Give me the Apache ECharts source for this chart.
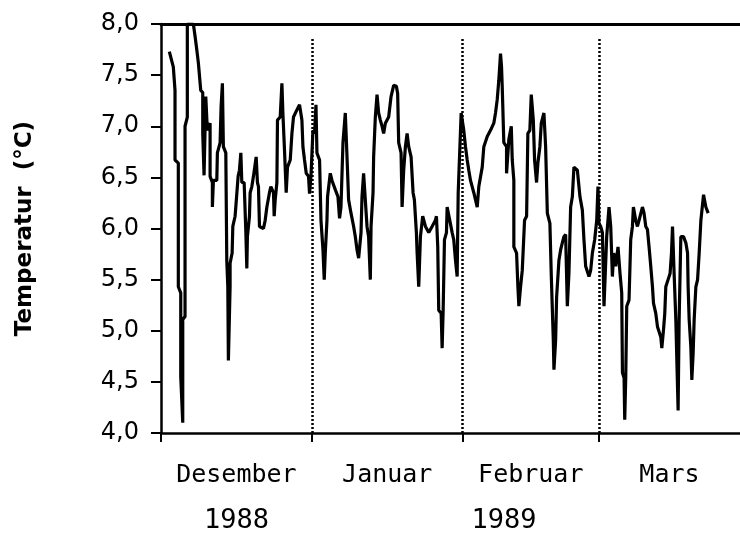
<!DOCTYPE html>
<html>
<head>
<meta charset="utf-8">
<style type="text/css">
html, body{margin: 0; padding: 0; background: #fff}
#chart{width: 740px; height: 535px}
</style>
</head>
<body>
<div id="chart"></div>
<script src="https://cdn.jsdelivr.net/npm/echarts@6/dist/echarts.min.js"></script>
<script type="text/javascript">
// days since 1 Dec 1988
var days = [1.71,2.53,2.88,2.88,3.56,3.56,4.06,4.06,4.47,4.47,4.94,4.94,5.41,5.41,6.65,7.00,7.35,7.68,8.17,8.58,
8.58,8.85,9.20,9.53,10.09,10.09,10.56,10.56,10.77,11.47,11.59,12.15,12.35,12.62,12.82,13.32,13.52,13.73,13.85,14.20,
14.20,14.62,14.76,15.23,15.44,15.85,16.12,16.41,16.61,17.09,17.44,17.64,17.76,18.18,18.32,18.67,19.00,19.56,19.82,20.03,
20.24,21.06,21.41,21.76,22.29,22.58,23.12,23.26,23.47,23.82,23.94,24.50,24.85,25.05,25.38,25.73,26.00,26.56,26.91,27.23,
27.93,28.47,28.96,29.17,29.50,29.85,30.32,30.53,30.82,31.23,31.56,31.85,32.05,32.59,32.88,33.29,33.55,33.76,34.11,34.23,
34.79,35.14,35.82,36.37,36.70,36.99,37.40,37.88,38.23,38.56,39.05,39.59,39.94,40.29,40.62,41.11,41.31,41.64,41.99,42.34,
42.67,43.02,43.17,43.58,43.70,44.05,44.40,44.73,45.08,45.43,45.76,46.11,46.79,47.28,47.82,48.38,48.64,48.85,49.34,49.55,
49.88,50.23,50.58,50.91,51.40,51.81,52.08,52.49,52.64,52.97,53.32,53.79,54.35,55.03,55.72,56.40,56.61,56.88,57.08,57.58,
57.78,57.99,58.26,58.67,58.81,59.35,59.84,60.17,60.52,60.87,61.08,61.69,62.23,62.58,62.93,63.26,63.61,64.29,64.99,65.32,
66.02,66.35,67.05,67.72,68.40,68.75,69.10,69.43,69.78,69.99,70.13,70.46,71.02,71.02,71.49,71.99,72.19,72.52,72.52,73.08,
73.35,73.55,73.90,74.25,74.72,75.14,75.40,75.81,76.10,76.52,76.78,77.19,77.46,77.87,78.16,78.70,79.05,79.40,79.93,80.22,
80.63,80.76,81.11,81.31,81.79,82.13,82.48,82.81,83.16,83.51,83.84,84.19,84.54,84.87,85.57,86.11,86.60,86.93,87.28,87.96,
88.31,88.66,89.13,89.55,89.81,90.02,90.37,90.72,91.05,91.60,92.08,92.43,92.77,93.04,93.45,93.93,94.34,94.69,94.84,95.17,
95.31,95.52,95.72,96.19,96.54,96.89,97.09,97.57,97.92,98.25,98.95,99.28,99.63,99.98,100.31,100.66,101.01,101.22,101.69,102.04,
102.72,102.93,103.28,103.54,103.75,104.22,104.63,104.92,105.13,105.46,105.81,106.02,106.28,106.49,106.84,107.39,107.87,108.22,108.34,108.55,
108.90,109.10,109.37,109.58,109.93,110.28,110.61,110.96,111.51,111.98,112.46];
var temps = [7.73,7.58,7.35,6.67,6.64,5.43,5.37,4.55,4.10,5.11,5.14,7.00,7.09,8.00,8.00,7.88,7.75,7.62,7.35,7.33,
6.93,6.52,7.29,6.96,7.03,6.51,6.45,6.21,6.47,6.47,6.74,6.84,7.19,7.42,6.80,6.74,5.69,5.43,4.71,5.43,
5.66,5.76,6.02,6.12,6.25,6.51,6.57,6.74,6.45,6.45,5.96,5.61,5.92,6.12,6.35,6.41,6.51,6.70,6.45,6.41,
6.02,6.00,6.08,6.21,6.35,6.41,6.35,6.12,6.28,6.45,7.06,7.09,7.42,7.13,6.77,6.35,6.60,6.67,6.93,7.09,
7.16,7.21,7.06,6.80,6.67,6.54,6.51,6.34,6.51,6.96,6.93,7.21,6.74,6.67,6.08,5.79,5.50,5.76,6.08,6.31,
6.54,6.47,6.38,6.31,6.10,6.21,6.84,7.13,6.70,6.28,6.15,6.02,5.92,5.79,5.71,5.96,6.31,6.54,6.28,6.02,
5.92,5.50,6.02,6.35,6.70,7.09,7.31,7.13,7.06,7.00,6.93,7.03,7.09,7.29,7.40,7.39,7.32,6.84,6.74,6.21,
6.57,6.80,6.93,6.80,6.70,6.35,6.28,5.96,5.76,5.43,5.92,6.12,6.02,5.96,6.02,6.08,6.12,5.82,5.20,5.17,
4.83,5.20,5.89,5.96,6.21,6.08,5.96,5.89,5.69,5.53,6.35,7.13,6.96,6.80,6.67,6.57,6.47,6.35,6.21,6.41,
6.60,6.80,6.90,6.96,7.03,7.13,7.26,7.45,7.71,7.58,7.39,6.84,6.80,6.54,6.87,7.00,6.67,6.47,5.82,5.76,
5.43,5.24,5.43,5.59,6.08,6.12,6.93,6.96,7.31,7.06,6.67,6.45,6.64,6.80,7.03,7.13,6.80,6.15,6.05,5.53,
4.91,4.62,4.91,5.33,5.69,5.79,5.86,5.92,5.94,5.24,5.56,6.21,6.31,6.60,6.57,6.31,6.18,5.89,5.63,5.53,
5.59,5.76,5.89,6.08,6.41,6.05,6.02,5.96,5.24,5.92,6.21,6.02,5.53,5.76,5.63,5.82,5.56,5.37,4.59,4.54,
4.13,4.55,5.24,5.30,5.89,6.02,6.21,6.08,6.02,6.08,6.21,6.15,6.02,5.99,5.82,5.63,5.43,5.27,5.17,5.04,
4.94,4.83,5.01,5.17,5.43,5.50,5.56,5.76,6.02,5.56,5.11,4.71,4.22,5.11,5.92,5.92,5.86,5.76,5.43,5.11,
4.84,4.52,4.78,5.11,5.43,5.50,5.76,6.08,6.33,6.21,6.15];

var monthStarts = [0, 31, 62, 90];
var monthMids = [15.5, 46.5, 76, 104.5];
var monthNames = ['Desember', 'Januar', 'Februar', 'Mars'];
var yearPos = [15.5, 70.5];
var yearNames = ['1988', '1989'];

var chart = echarts.init(document.getElementById('chart'));

var points = [];
for (var i = 0; i < days.length; i++) {
    points.push([days[i], temps[i]]);
}
var dividers = [];
for (var j = 1; j < monthStarts.length; j++) {
    dividers.push([{coord: [monthStarts[j], 4]}, {coord: [monthStarts[j], 7.86]}]);
}

option = {
    animation: false,
    backgroundColor: '#fff',
    grid: {
        left: 161,
        right: 0,
        top: 24,
        bottom: 102,
        containLabel: false
    },
    xAxis: [
        {
            type: 'value',
            min: 0,
            max: 119,
            position: 'bottom',
            splitLine: {show: false},
            axisLine: {show: true, lineStyle: {color: '#000', width: 2.5}},
            axisTick: {show: true, customValues: monthStarts, length: 9, lineStyle: {color: '#000', width: 2}},
            axisLabel: {
                customValues: monthMids,
                margin: 30,
                color: '#000',
                fontFamily: 'DejaVu Sans Mono',
                fontSize: 25,
                formatter: function (v) {
                    return monthNames[monthMids.indexOf(v)];
                }
            }
        },
        {
            type: 'value',
            min: 0,
            max: 119,
            position: 'bottom',
            splitLine: {show: false},
            axisLine: {show: false},
            axisTick: {show: false},
            axisLabel: {
                customValues: yearPos,
                margin: 74,
                color: '#000',
                fontFamily: 'DejaVu Sans Mono',
                fontSize: 27,
                formatter: function (v) {
                    return yearNames[yearPos.indexOf(v)];
                }
            }
        },
        {
            type: 'value',
            min: 0,
            max: 119,
            position: 'top',
            splitLine: {show: false},
            axisLine: {show: true, lineStyle: {color: '#000', width: 3}},
            axisTick: {show: false},
            axisLabel: {show: false}
        }
    ],
    yAxis: {
        type: 'value',
        min: 4,
        max: 8,
        interval: 0.5,
        name: 'Temperatur  (°C)',
        nameLocation: 'middle',
        nameGap: 124,
        nameRotate: 90,
        nameTextStyle: {
            color: '#000',
            fontFamily: 'DejaVu Sans',
            fontWeight: 'bold',
            fontSize: 23
        },
        splitLine: {show: false},
        axisLine: {show: true, lineStyle: {color: '#000', width: 2.5}},
        axisTick: {show: true, length: 10, lineStyle: {color: '#000', width: 2}},
        axisLabel: {
            margin: 22,
            color: '#000',
            fontFamily: 'DejaVu Sans',
            fontSize: 24,
            formatter: function (v) {
                return v.toFixed(1).replace('.', ',');
            }
        }
    },
    series: [
        {
            name: 'Temperatur',
            type: 'line',
            data: points,
            showSymbol: false,
            clip: true,
            lineStyle: {color: '#000', width: 3.2},
            markLine: {
                silent: true,
                symbol: 'none',
                label: {show: false},
                lineStyle: {color: '#000', type: [2, 2], width: 2.5},
                data: dividers
            }
        }
    ]
};
chart.setOption(option, true);
</script>
</body>
</html>
